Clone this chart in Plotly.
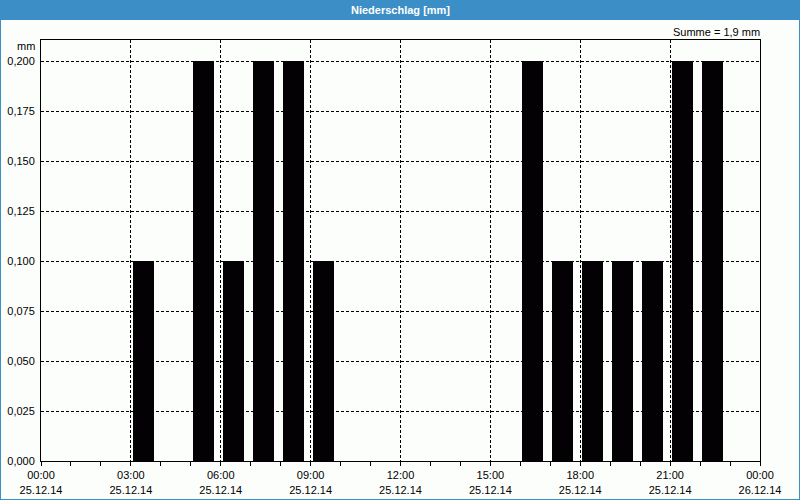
import plotly.graph_objects as go

# Data
day = "2014-12-25"
hours = [3, 5, 6, 7, 8, 9, 16, 17, 18, 19, 20, 21, 22]
values = [0.1, 0.2, 0.1, 0.2, 0.2, 0.1, 0.2, 0.1, 0.1, 0.1, 0.1, 0.2, 0.2]
tick_times = ["2014-12-25 00:00", "2014-12-25 03:00", "2014-12-25 06:00", "2014-12-25 09:00",
              "2014-12-25 12:00", "2014-12-25 15:00", "2014-12-25 18:00", "2014-12-25 21:00",
              "2014-12-26 00:00"]
tick_labels = ["00:00<br>25.12.14", "03:00<br>25.12.14", "06:00<br>25.12.14", "09:00<br>25.12.14",
               "12:00<br>25.12.14", "15:00<br>25.12.14", "18:00<br>25.12.14", "21:00<br>25.12.14",
               "00:00<br>26.12.14"]
y_ticks = [0, 0.025, 0.05, 0.075, 0.1, 0.125, 0.15, 0.175, 0.2]
title = "Niederschlag [mm]"
summe = "Summe = 1,9 mm"

xs = [f"{day} {h:02d}:00" for h in hours]

W, H = 800, 500
L, R, T, B = 41, 40, 40, 39
pw, ph = W - L - R, H - T - B

def px_x(p):
    return (p - L) / pw

def px_y(p):
    return 1 - (p - T) / ph

fig = go.Figure()
fig.add_trace(go.Bar(
    x=xs, y=values,
    offset=4 * 60 * 1000, width=42 * 60 * 1000,
    marker=dict(color="#030104", line=dict(width=0)),
    hoverinfo="x+y",
))

font = dict(family="Liberation Sans, Arial, sans-serif", size=11, color="#000000")

fig.update_layout(
    width=W, height=H,
    margin=dict(l=L, r=R, t=T, b=B, autoexpand=False),
    paper_bgcolor="#fcfefc", plot_bgcolor="#fcfefc",
    font=font,
    showlegend=False,
    separators=",.",
    bargap=0,
    xaxis=dict(
        type="date", automargin=False,
        range=["2014-12-25 00:00", "2014-12-26 00:00"],
        tickmode="array", tickvals=tick_times, ticktext=tick_labels,
        ticks="outside", ticklen=4, tickcolor="#000", tickwidth=1,
        showgrid=True, gridcolor="#000", griddash="3px,2px", gridwidth=1,
        showline=True, linecolor="#000", linewidth=1, mirror=True,
        zeroline=False,
        minor=dict(dtick=3600000, ticks="outside", ticklen=4, tickcolor="#000", showgrid=False),
        tickfont=font,
    ),
    yaxis=dict(
        automargin=False,
        range=[0, 0.2105],
        tickmode="array", tickvals=y_ticks, tickformat=".3f",
        ticks="", showgrid=True, gridcolor="#000", griddash="3px,2px", gridwidth=1,
        showline=True, linecolor="#000", linewidth=1, mirror=True,
        zeroline=False, tickfont=font, ticklabelstandoff=3,
    ),
    shapes=[
        dict(type="rect", xref="paper", yref="paper",
             x0=px_x(0), x1=px_x(W), y0=px_y(20), y1=px_y(0),
             fillcolor="#3c8fc6", line=dict(width=0), layer="above"),
        dict(type="line", xref="paper", yref="paper",
             x0=px_x(0.5), x1=px_x(0.5), y0=px_y(H), y1=px_y(20),
             line=dict(color="#3c8fc6", width=1)),
        dict(type="line", xref="paper", yref="paper",
             x0=px_x(W - 0.5), x1=px_x(W - 0.5), y0=px_y(H), y1=px_y(20),
             line=dict(color="#3c8fc6", width=1)),
        dict(type="line", xref="paper", yref="paper",
             x0=px_x(0), x1=px_x(W), y0=px_y(H - 0.5), y1=px_y(H - 0.5),
             line=dict(color="#3c8fc6", width=1)),
    ],
    annotations=[
        dict(text=f"<b>{title}</b>", xref="paper", yref="paper",
             x=px_x(W / 2), y=px_y(10), xanchor="center", yanchor="middle",
             showarrow=False, font=dict(family=font["family"], size=11, color="#ffffff")),
        dict(text=summe, xref="paper", yref="paper",
             x=px_x(762), y=px_y(32), xanchor="right", yanchor="middle",
             showarrow=False, font=font),
        dict(text="mm", xref="paper", yref="paper",
             x=px_x(37), y=px_y(46), xanchor="right", yanchor="middle",
             showarrow=False, font=font),
    ],
)

fig.write_html("out.html")
